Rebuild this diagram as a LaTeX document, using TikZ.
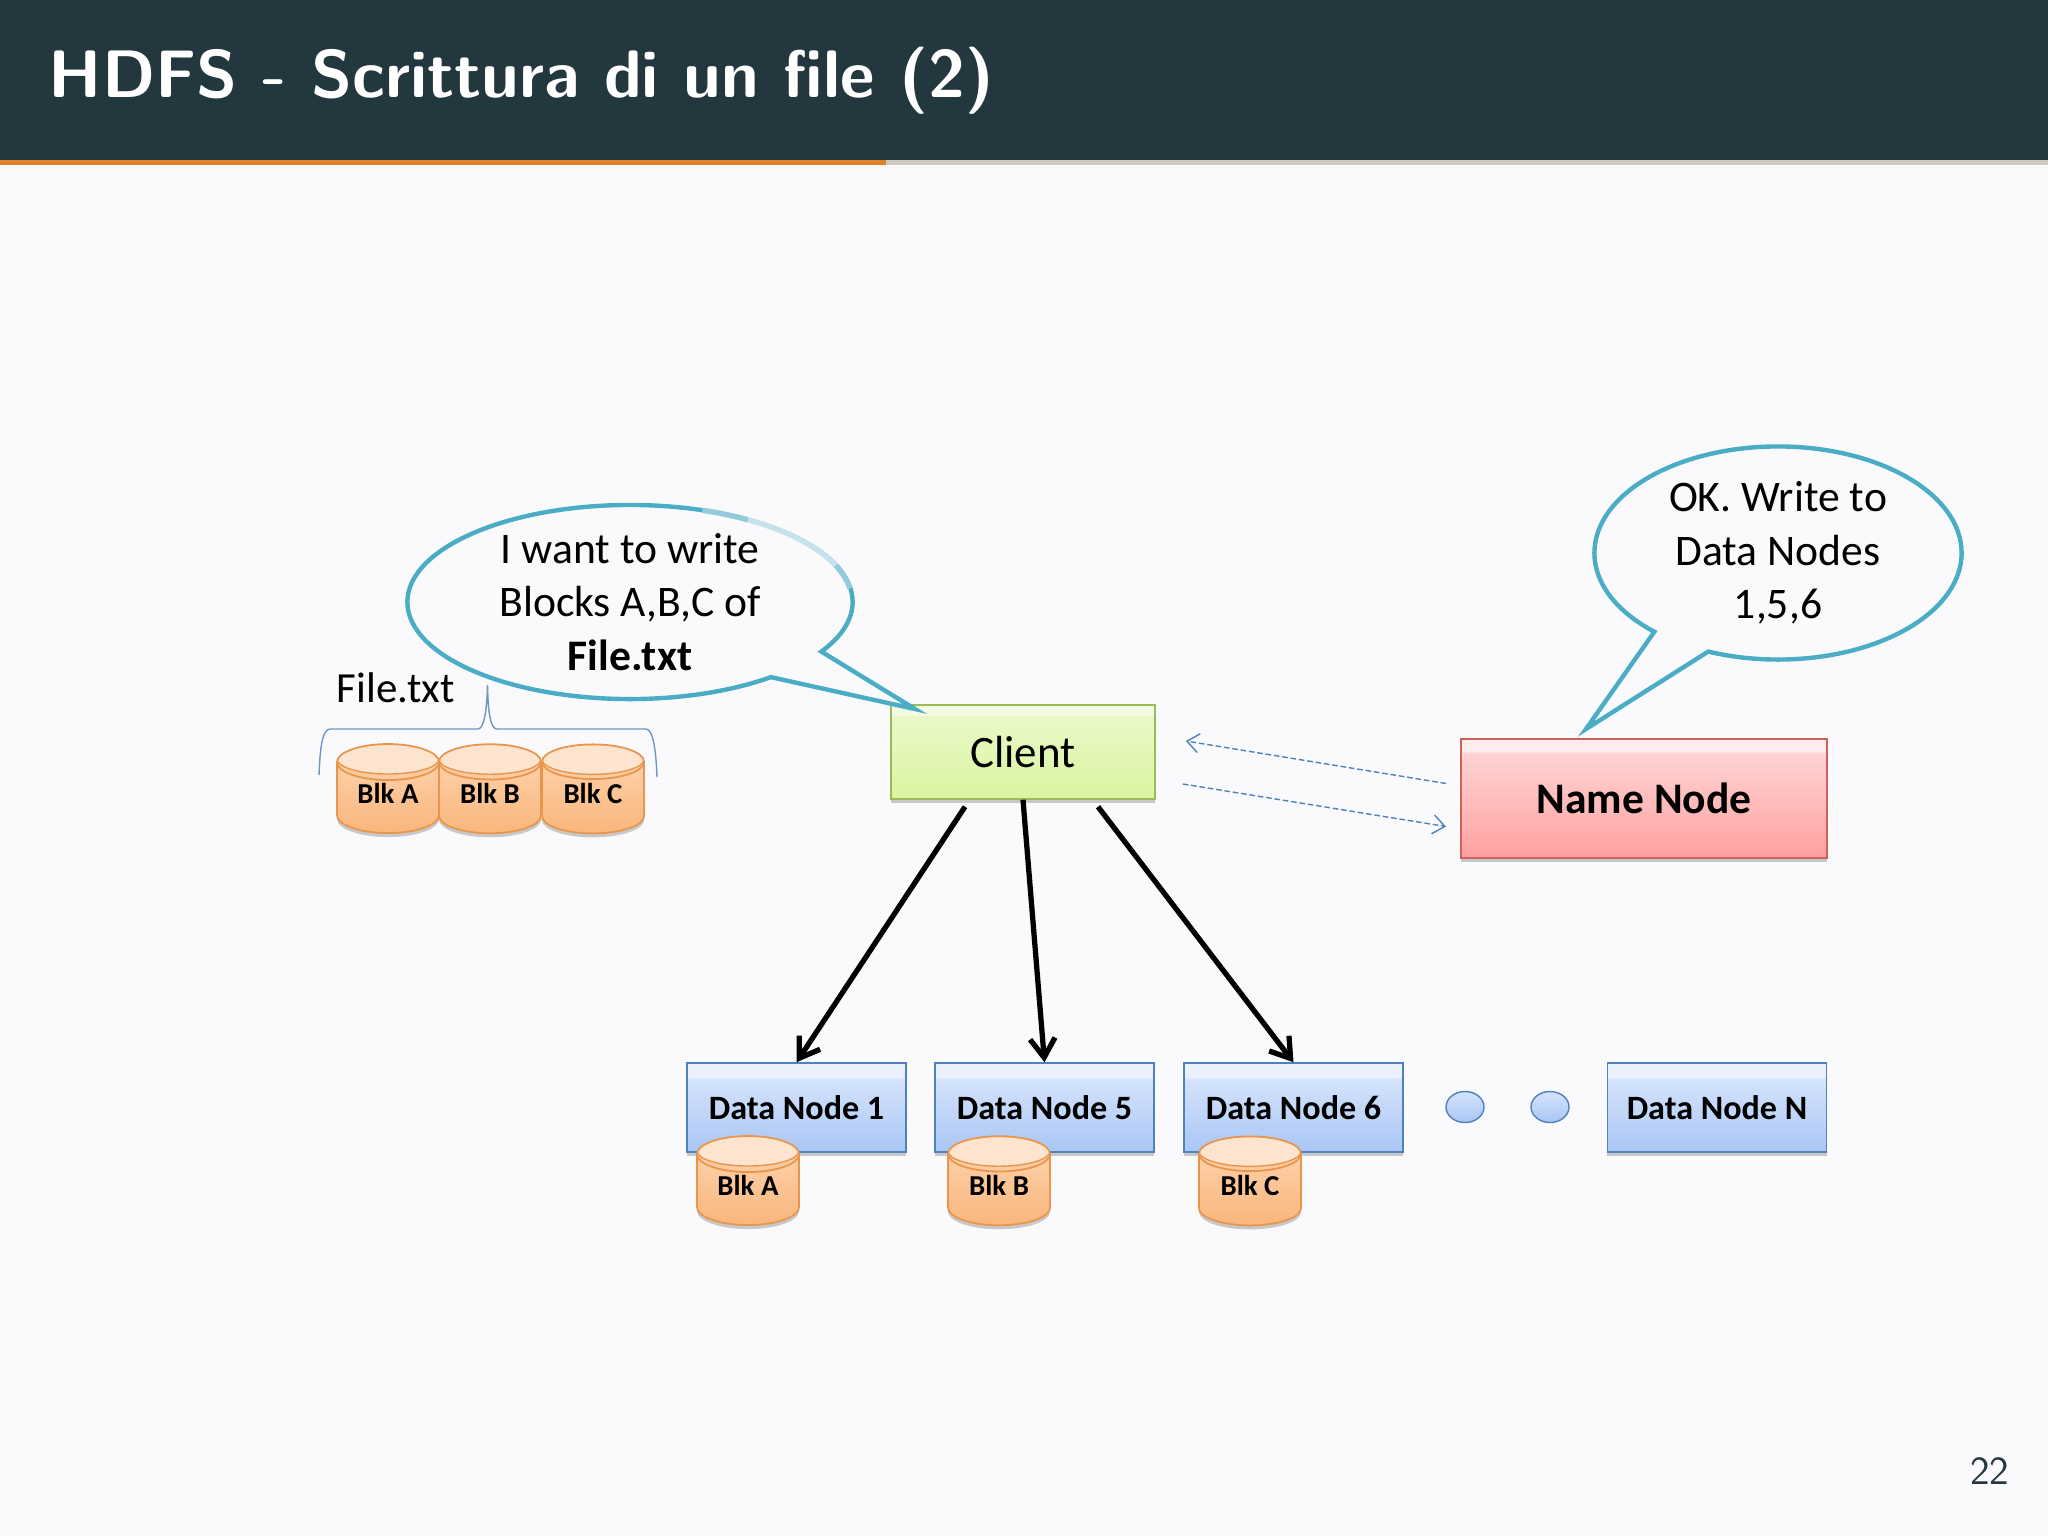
\documentclass[tikz,border=0pt]{standalone}
\usepackage{xcolor}
\usepackage{fontspec}
\setmainfont{Carlito}
\usetikzlibrary{calc,shapes.geometric,shapes.callouts,shadows,arrows.meta}

\definecolor{pagebg}{HTML}{FAFAFC}
\definecolor{barbg}{HTML}{23373F}
\definecolor{barline}{HTML}{E0822A}
\definecolor{barrest}{HTML}{D0C9BD}
\definecolor{talkline}{HTML}{4BACC6}
\definecolor{dashline}{HTML}{4F81BD}
\definecolor{bracket}{HTML}{7196C6}
\definecolor{dnhi}{HTML}{EAF1FD}
\definecolor{dntop}{HTML}{D5E3FB}
\definecolor{dnbot}{HTML}{A9C6F5}
\definecolor{dnline}{HTML}{4F81BD}
\definecolor{rdhi}{HTML}{FFEDED}
\definecolor{rdtop}{HTML}{FFD3D3}
\definecolor{rdbot}{HTML}{FFA0A0}
\definecolor{rdline}{HTML}{D0605C}
\definecolor{grhi}{HTML}{F3FBE2}
\definecolor{grtop}{HTML}{EAF8C8}
\definecolor{grbot}{HTML}{D9F5A0}
\definecolor{grline}{HTML}{9BBB59}
\definecolor{cyltop}{HTML}{FDE4CE}
\definecolor{cylhi}{HTML}{FDD6B2}
\definecolor{cylbot}{HTML}{FAB67C}
\definecolor{cylline}{HTML}{E8964E}

\pgfdeclareverticalshading{dnshade}{100bp}{color(0bp)=(dnbot); color(25bp)=(dnbot); color(66bp)=(dntop); color(67bp)=(dnhi); color(100bp)=(dnhi)}
\pgfdeclareverticalshading{rdshade}{100bp}{color(0bp)=(rdbot); color(25bp)=(rdbot); color(69bp)=(rdtop); color(70bp)=(rdhi); color(100bp)=(rdhi)}
\pgfdeclareverticalshading{grshade}{100bp}{color(0bp)=(grbot); color(25bp)=(grbot); color(69bp)=(grtop); color(70bp)=(grhi); color(100bp)=(grhi)}

\tikzset{
    softshadow/.style={drop shadow={shadow xshift=0cm, shadow yshift=-0.04cm, fill=black, opacity=0.2}},
    databox/.style={rectangle, draw=dnline, line width=0.4pt, shading=dnshade, softshadow, minimum width=2.19cm, minimum height=0.89cm, inner sep=0pt, font=\fontsize{9.7}{11}\selectfont\bfseries},
    blockcyl/.style={cylinder, shape border rotate=90, aspect=0.59, draw=cylline, line width=0.5pt, softshadow, minimum width=1.02cm, minimum height=0.89cm, inner sep=0pt, text height=0.2cm, text depth=0.1cm, font=\fontsize{8.2}{10}\selectfont\bfseries,
        path picture={
            \shade[top color=cylhi, bottom color=cylbot] (path picture bounding box.south west) rectangle (path picture bounding box.north east);
            \fill[cyltop, draw=cylline, line width=0.4pt] ($(path picture bounding box.north)+(0,15)$) ellipse (0.51cm and 0.15cm);
        }},
    talkbox/.style={ellipse callout, draw=talkline, line width=1.25pt, fill=pagebg, inner sep=0pt, align=center, font=\fontsize{12.4}{15.2}\selectfont},
    paleline/.style={line width=1.5pt, talkline!#1!pagebg},
    dotcircle/.style={ellipse, draw=dnline, line width=0.4pt, top color=dntop, bottom color=dnbot, minimum width=0.38cm, minimum height=0.31cm, inner sep=0pt},
    bigarrow/.style={-{Straight Barb[length=1.9mm,width=2.5mm]}, line width=1.5pt, black},
    askarrow/.style={-{Straight Barb[length=1.2mm,width=1.9mm]}, dash pattern=on 1.6pt off 0.8pt, line width=0.4pt, dashline},
}

\begin{document}
\begin{tikzpicture}[x=0.01cm, y=-0.01cm]
    \useasboundingbox (0, 0) rectangle (2048, 1536);
    \fill[pagebg] (0, 0) rectangle (2048, 1536);
    \fill[barbg] (0, 0) rectangle (2048, 160);
    \fill[barrest] (886, 160) rectangle (2048, 165);
    \fill[barline] (0, 160) rectangle (886, 165);
    \node[anchor=base west, inner sep=0pt, text=white, font=\fontsize{19.1}{22}\selectfont\sffamily\bfseries] (title) at (48, 97) {HDFS - Scrittura di un file (2)};
    \node[anchor=base east, inner sep=0pt, text=barbg, font=\fontsize{11.3}{13}\selectfont\sffamily] (pagenum) at (2010, 1484) {22};

    \node[rectangle, draw=grline, line width=0.4pt, shading=grshade, softshadow, minimum width=2.64cm, minimum height=0.94cm, inner sep=0pt, font=\fontsize{12.8}{15}\selectfont] (client) at (1023, 752) {Client};
    \node[rectangle, draw=rdline, line width=0.5pt, shading=rdshade, softshadow, minimum width=3.66cm, minimum height=1.19cm, inner sep=0pt, font=\fontsize{12.4}{15}\selectfont\bfseries] (namenode) at (1644, 798.5) {Name Node};

    \node[databox] (dnone) at (796.5, 1107.5) {Data Node 1};
    \node[databox] (dnfive) at (1044.5, 1107.5) {Data Node 5};
    \node[databox] (dnsix) at (1293.5, 1107.5) {Data Node 6};
    \node[databox] (dnn) at (1717, 1107.5) {Data Node N};
    \node[dotcircle] (dotone) at (1465, 1107) {};
    \node[dotcircle] (dottwo) at (1550, 1107) {};

    \node[blockcyl] (blka) at (388, 798) {Blk A};
    \node[blockcyl] (blkb) at (490, 798) {Blk B};
    \node[blockcyl] (blkc) at (593, 798) {Blk C};
    \node[blockcyl] (cyla) at (748, 1190) {Blk A};
    \node[blockcyl] (cylb) at (999, 1190) {Blk B};
    \node[blockcyl] (cylc) at (1250, 1190) {Blk C};

    \node[anchor=base west, inner sep=0pt, font=\fontsize{12.2}{15}\selectfont] (filename) at (336, 702) {File.txt};
    \draw[bracket, line width=0.4pt] (319, 775) .. controls (320, 750) and (322, 729) .. (330, 729) -- (478, 729) .. controls (484, 729) and (487, 710) .. (487.5, 685) .. controls (488, 710) and (490, 729) .. (497, 729) -- (646, 729) .. controls (653, 729) and (656, 750) .. (657, 777);

    \coordinate (asktip) at (915, 709);
    \coordinate (oktip) at (1586, 729);
    \node[talkbox, minimum width=4.45cm, minimum height=1.94cm, callout absolute pointer=(asktip), callout pointer arc=20] (ask) at (630, 602) {I want to write\\Blocks A,B,C of\\\textbf{File.txt}};
    \node[talkbox, minimum width=3.67cm, minimum height=2.13cm, callout absolute pointer=(oktip), callout pointer arc=20] (ok) at (1778, 553) {OK. Write to\\Data Nodes\\1,5,6};
    \draw[paleline=60] ($(ask.center)+({222*cos(-71)}, {97*sin(-71)})$) arc (-71:-58:222 and 97);
    \draw[paleline=30] ($(ask.center)+({222*cos(-58)}, {97*sin(-58)})$) arc (-58:-22:222 and 97);
    \draw[paleline=60] ($(ask.center)+({222*cos(-22)}, {97*sin(-22)})$) arc (-22:-8:222 and 97);

    \draw[bigarrow] ($(client.south)+(-58, 7)$) -- (dnone.north);
    \draw[bigarrow] (client.south) -- (dnfive.north);
    \draw[bigarrow] ($(client.south)+(75, 7)$) -- (dnsix.north);
    \draw[askarrow] ($(namenode.west)+(-14, -15)$) -- ($(client.east)+(30, -11)$);
    \draw[askarrow] ($(client.east)+(27, 32)$) -- ($(namenode.west)+(-14, 28)$);
\end{tikzpicture}
\end{document}
